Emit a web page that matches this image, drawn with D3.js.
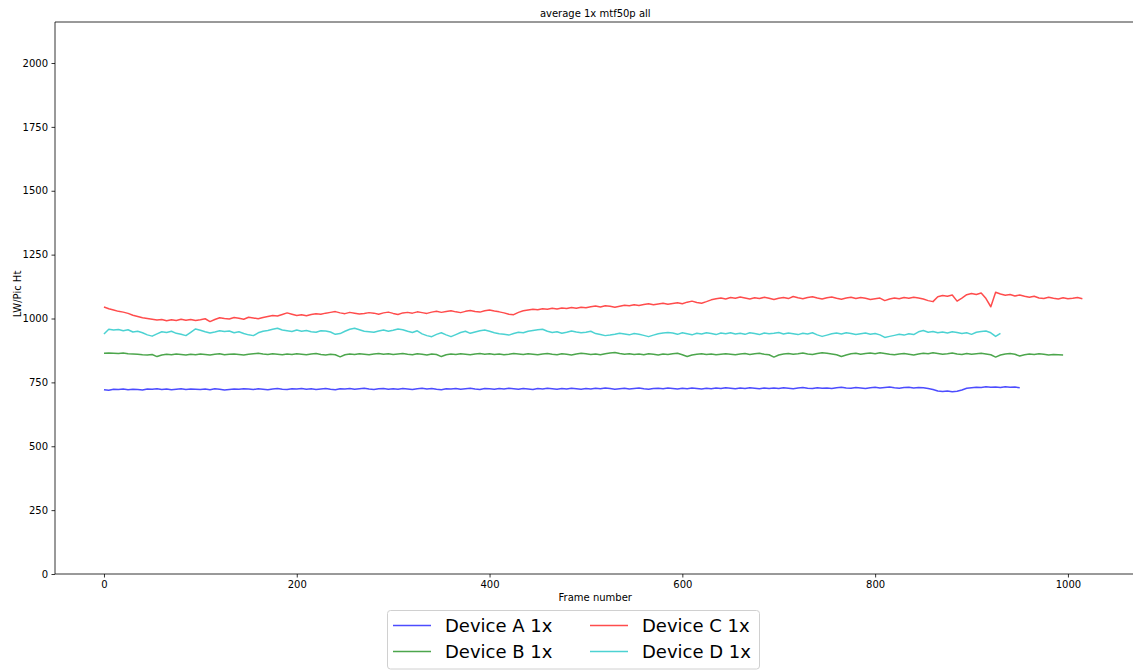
<!DOCTYPE html>
<html>
<head>
<meta charset="utf-8">
<script src="https://cdn.jsdelivr.net/npm/d3@7"></script>
<style>
  html, body { margin: 0; padding: 0; background: #fff; }
  svg { display: block; font-family: "DejaVu Sans", sans-serif; }
</style>
</head>
<body>
<svg id="chart" width="1133" height="671"></svg>
<script>
// Sampled every FRAME_STEP frames, starting at frame 0.
const FRAME_STEP = 5;

const deviceA = [
  721,719,723,722,724,721,723,722,720,724,
  723,725,722,724,721,723,725,722,724,723,
  722,724,721,725,723,720,722,724,723,725,
  724,722,725,723,721,724,726,723,722,725,
  724,726,723,725,722,724,726,723,721,725,
  724,726,723,725,727,724,722,725,726,723,
  725,723,726,724,722,725,727,724,726,723,
  721,725,724,726,723,725,727,724,722,726,
  725,723,726,724,727,725,723,726,724,722,
  726,724,727,725,723,726,724,727,725,723,
  726,724,727,725,728,726,723,725,727,724,
  726,728,725,723,726,727,725,728,726,724,
  727,725,728,726,724,727,725,728,726,729,
  727,725,728,726,729,727,725,728,726,728,
  726,729,727,725,728,730,727,726,729,727,
  728,726,729,731,728,727,730,728,726,729,
  731,728,730,732,729,727,730,731,728,730,
  729,726,722,716,714,716,713,715,720,727,
  729,731,730,733,731,732,730,733,731,732,
  729
];

const deviceB = [
  864,865,864,863,865,862,861,860,858,857,
  859,851,857,860,858,861,859,857,860,858,
  861,859,857,860,862,858,860,861,859,857,
  860,862,864,861,859,862,860,858,861,859,
  862,860,858,861,863,859,857,860,858,850,
  858,861,859,862,860,858,861,863,860,862,
  859,861,863,860,858,862,860,857,861,859,
  851,858,861,859,862,860,858,861,863,860,
  862,859,861,858,860,863,861,859,862,860,
  858,861,863,860,858,862,860,857,861,864,
  862,859,861,858,862,865,867,863,860,862,
  859,861,858,862,860,857,861,859,862,864,
  858,851,857,860,862,859,861,858,860,862,
  860,858,861,863,859,862,864,860,858,849,
  857,861,863,860,862,865,861,859,863,866,
  864,861,858,851,857,862,864,860,863,865,
  862,866,863,860,858,861,863,860,857,861,
  864,862,866,863,860,862,865,861,859,863,
  860,862,864,861,858,849,857,861,863,860,
  853,858,861,859,862,860,857,859,858,857
];

const deviceC = [
  1045,1038,1033,1028,1025,1020,1013,1008,1003,1000,
  997,994,996,991,995,992,997,993,996,992,
  995,999,988,996,1003,1000,998,1004,1001,997,
  1005,1002,999,1004,1008,1012,1010,1016,1022,1017,
  1012,1015,1011,1016,1019,1017,1021,1024,1027,1022,
  1019,1024,1021,1018,1020,1023,1021,1017,1022,1025,
  1020,1016,1022,1024,1021,1026,1023,1020,1025,1028,
  1024,1027,1030,1026,1023,1028,1031,1027,1025,1030,
  1033,1029,1026,1022,1017,1015,1024,1030,1033,1036,
  1034,1038,1036,1040,1037,1041,1039,1043,1040,1044,
  1042,1046,1049,1045,1050,1048,1044,1048,1052,1050,
  1054,1051,1055,1058,1054,1057,1060,1056,1059,1062,
  1058,1064,1068,1063,1060,1066,1073,1077,1080,1076,
  1082,1079,1084,1080,1076,1081,1078,1083,1079,1074,
  1079,1082,1078,1086,1081,1077,1082,1085,1080,1076,
  1081,1084,1079,1075,1080,1083,1078,1082,1079,1074,
  1077,1080,1070,1076,1080,1077,1082,1079,1083,1080,
  1076,1070,1066,1085,1090,1087,1092,1068,1080,1093,
  1098,1094,1100,1078,1046,1103,1096,1091,1094,1088,
  1092,1087,1083,1087,1080,1078,1083,1079,1076,1081,
  1077,1079,1082,1077
];

const deviceD = [
  939,958,955,957,952,956,947,950,944,936,
  931,940,948,945,950,942,938,933,946,959,
  954,948,943,947,952,949,951,944,948,941,
  936,933,944,950,953,958,962,955,952,949,
  955,950,953,948,946,952,951,947,938,941,
  950,958,962,956,950,948,946,951,955,950,
  954,959,956,950,945,952,940,933,929,938,
  944,936,929,937,945,950,942,947,952,955,
  950,944,940,938,935,941,946,944,950,953,
  956,958,950,945,948,942,946,951,947,944,
  946,950,941,937,933,935,938,942,939,936,
  941,938,934,929,935,940,943,945,943,938,
  944,940,936,942,939,944,941,937,943,940,
  944,939,942,938,944,941,937,943,940,942,
  945,939,943,940,937,942,939,944,936,930,
  935,940,943,939,944,941,937,940,943,938,
  941,936,926,930,934,938,935,940,937,948,
  953,946,949,944,947,943,948,945,941,944,
  938,946,949,951,944,930,942
];

const seriesNames = ["Device A 1x", "Device B 1x", "Device C 1x", "Device D 1x"];
const seriesColors = ["#0000ff", "#008000", "#ff0000", "#00bfbf"];
const seriesValues = [deviceA, deviceB, deviceC, deviceD];

const xTicks = [0, 200, 400, 600, 800, 1000];
const yTicks = [0, 250, 500, 750, 1000, 1250, 1500, 1750, 2000];

const chartTitle = "average 1x mtf50p all";
const xLabel = "Frame number";
const yLabel = "LW/Pic Ht";

// Layout
const margin = { left: 55, top: 22 };
const plotW = 1080.5, plotH = 552;

const svg = d3.select("#chart");
const g = svg.append("g").attr("transform", `translate(${margin.left},${margin.top})`);

const x = d3.scaleLinear().domain([-50.8, 1070.1]).range([0, plotW]);
const y = d3.scaleLinear().domain([0, 2160.5]).range([plotH, 0]);

svg.append("defs").append("clipPath").attr("id", "plot-clip")
  .append("rect").attr("width", plotW).attr("height", plotH);

// Series lines
const line = d3.line()
  .x((d, i) => x(i * FRAME_STEP))
  .y(d => y(d));

const lines = g.append("g").attr("clip-path", "url(#plot-clip)");
seriesValues.forEach((vals, k) => {
  lines.append("path")
    .datum(vals)
    .attr("fill", "none")
    .attr("stroke", seriesColors[k])
    .attr("stroke-opacity", 0.7)
    .attr("stroke-width", 1.5)
    .attr("stroke-linejoin", "round")
    .attr("d", line);
});

// Axes
const xAxis = d3.axisBottom(x).tickValues(xTicks).tickSize(3.5).tickPadding(3.5).tickFormat(d3.format("d"));
const yAxis = d3.axisLeft(y).tickValues(yTicks).tickSize(3.5).tickPadding(3.5).tickFormat(d3.format("d"));

const gx = g.append("g").attr("transform", `translate(0,${plotH})`).call(xAxis);
const gy = g.append("g").call(yAxis);

[gx, gy].forEach(ax => {
  ax.select(".domain").remove();
  ax.selectAll(".tick line").attr("stroke", "#000").attr("stroke-width", 0.8);
  ax.selectAll(".tick text").attr("fill", "#000").style("font-size", "10px")
    .style("font-family", "'DejaVu Sans', sans-serif");
});

// Spines
const spine = g.append("g").attr("stroke", "#000").attr("stroke-width", 0.8).attr("fill", "none");
spine.append("line").attr("x1", 0).attr("x2", 0).attr("y1", 0).attr("y2", plotH);
spine.append("line").attr("x1", 0).attr("x2", plotW).attr("y1", plotH).attr("y2", plotH);
spine.append("line").attr("x1", 0).attr("x2", plotW).attr("y1", 0).attr("y2", 0);
spine.append("line").attr("x1", plotW).attr("x2", plotW).attr("y1", 0).attr("y2", plotH);

// Title and axis labels
g.append("text")
  .attr("x", plotW / 2).attr("y", -5.5)
  .attr("text-anchor", "middle")
  .style("font-size", "10px")
  .text(chartTitle);

g.append("text")
  .attr("x", plotW / 2).attr("y", plotH + 27)
  .attr("text-anchor", "middle")
  .style("font-size", "10px")
  .text(xLabel);

g.append("text")
  .attr("transform", `translate(${-34},${plotH / 2 - 4}) rotate(-90)`)
  .attr("text-anchor", "middle")
  .style("font-size", "10px")
  .text(yLabel);

// Legend (two columns: A,B | C,D)
const legend = svg.append("g").attr("transform", "translate(387,610)");
legend.append("rect")
  .attr("x", 0.5).attr("y", 0.5)
  .attr("width", 372).attr("height", 58.5)
  .attr("rx", 3).attr("ry", 3)
  .attr("fill", "#fff").attr("fill-opacity", 0.8)
  .attr("stroke", "#d0d0d0").attr("stroke-width", 1);

const colX = [6, 203];
const rowY = [15.5, 41.5];
seriesNames.forEach((name, k) => {
  const col = Math.floor(k / 2), row = k % 2;
  const item = legend.append("g").attr("transform", `translate(${colX[col]},${rowY[row]})`);
  item.append("line")
    .attr("x1", 0).attr("x2", 38).attr("y1", 0).attr("y2", 0)
    .attr("stroke", seriesColors[k]).attr("stroke-opacity", 0.7).attr("stroke-width", 1.5);
  item.append("text")
    .attr("x", 52).attr("y", 0).attr("dy", "0.36em")
    .style("font-size", "18px")
    .attr("fill", "#000")
    .text(name);
});
</script>
</body>
</html>
